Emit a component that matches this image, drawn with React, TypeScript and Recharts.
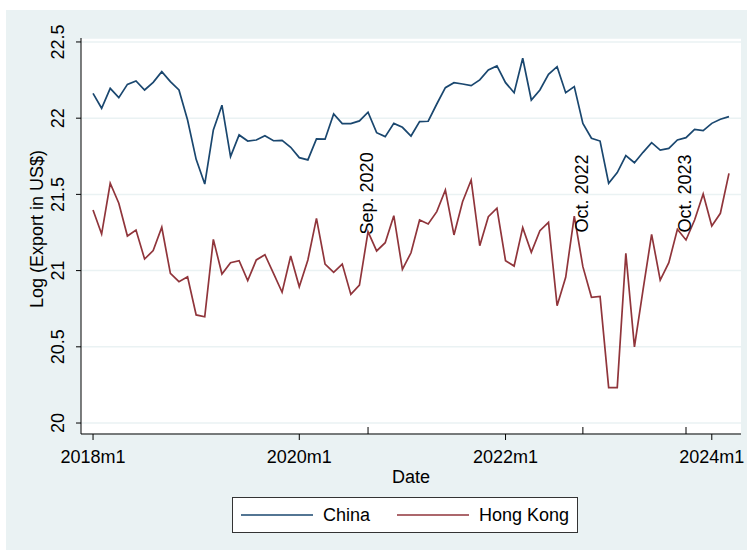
import React from "react";
import {
  LineChart,
  Line,
  XAxis,
  YAxis,
  CartesianGrid,
  ReferenceLine,
  ReferenceDot,
} from "recharts";

// Monthly log exports, 2018m1 .. 2024m3 (index 0 = 2018m1)
const china = [
  22.163, 22.065, 22.196, 22.135, 22.222, 22.244, 22.185, 22.235, 22.305, 22.24, 22.185, 21.988,
  21.73, 21.568, 21.923, 22.085, 21.748, 21.89, 21.85, 21.857, 21.885, 21.852, 21.855, 21.809,
  21.741, 21.726, 21.864, 21.862, 22.028, 21.964, 21.964, 21.982, 22.039, 21.905, 21.879, 21.966,
  21.94, 21.883, 21.977, 21.98, 22.093, 22.2, 22.233, 22.224, 22.213, 22.251, 22.316, 22.343,
  22.233, 22.167, 22.393, 22.119, 22.185, 22.288, 22.338, 22.167, 22.207, 21.966, 21.868, 21.85,
  21.573, 21.643, 21.754, 21.708, 21.776, 21.839, 21.791, 21.802, 21.857, 21.872, 21.927, 21.918,
  21.966, 21.993, 22.01,
];

const hongKong = [
  21.398, 21.24, 21.573, 21.442, 21.227, 21.266, 21.076, 21.131, 21.284, 20.982, 20.927, 20.96,
  20.709, 20.697, 21.205, 20.978, 21.052, 21.065, 20.934, 21.07, 21.104, 20.982, 20.858, 21.096,
  20.894, 21.07, 21.343, 21.043, 20.989, 21.043, 20.844, 20.905, 21.255, 21.129, 21.183, 21.36,
  21.008, 21.117, 21.332, 21.306, 21.387, 21.529, 21.234, 21.452, 21.594, 21.163, 21.354, 21.409,
  21.065, 21.03, 21.282, 21.12, 21.262, 21.317, 20.77, 20.956, 21.358, 21.026, 20.825, 20.83,
  20.232, 20.232, 21.113, 20.5, 20.873, 21.238, 20.938, 21.052, 21.271, 21.201, 21.332, 21.503,
  21.293, 21.376, 21.638,
];

const xTicks = [0, 24, 48, 72];
const xTickLabels = ["2018m1", "2020m1", "2022m1", "2024m1"];
const yTicks = [20, 20.5, 21, 21.5, 22, 22.5];

// event markers (month index) and their vertical notes
const eventMonths = [32, 57, 69];
const eventLabels = ["Sep. 2020", "Oct. 2022", "Oct. 2023"];
const eventTextY = 21.5;

const rows = china.map((v, i) => ({ t: i, china: v, hk: hongKong[i] }));

const FONT = "'Liberation Sans', Arial, sans-serif";
const FS = 18;
const NAVY = "#1A476F";
const MAROON = "#90353B";
const BG = "#EAF2F3";

function YTick({ x, y, payload }: any) {
  return (
    <text
      x={x}
      y={y}
      transform={`rotate(-90 ${x} ${y})`}
      textAnchor="middle"
      fontSize={FS}
      fontFamily={FONT}
      fill="#000"
    >
      {payload.value}
    </text>
  );
}

function YLabel({ viewBox }: any) {
  const x = viewBox.x + 37;
  const y = viewBox.y + viewBox.height / 2 - 7;
  return (
    <text
      x={x}
      y={y}
      transform={`rotate(-90 ${x} ${y})`}
      textAnchor="middle"
      fontSize={FS}
      fontFamily={FONT}
      fill="#000"
    >
      Log (Export in US$)
    </text>
  );
}

function EventTick(props: any) {
  const bottom = Math.max(props.y1, props.y2);
  return <line x1={props.x1} x2={props.x1} y1={bottom - 7} y2={bottom} stroke="#000" strokeWidth={1} />;
}

function eventText(label: string) {
  return ({ viewBox }: any) => {
    const x = viewBox.x + 6;
    const y = viewBox.y;
    return (
      <text
        x={x}
        y={y}
        transform={`rotate(-90 ${x} ${y})`}
        textAnchor="middle"
        fontSize={FS}
        fontFamily={FONT}
        fill="#000"
      >
        {label}
      </text>
    );
  };
}

export default function App() {
  return (
    <div
      style={{
        position: "absolute",
        left: 6,
        top: 10,
        width: 741,
        height: 540,
        background: BG,
        fontFamily: FONT,
      }}
    >
      <LineChart width={741} height={540} data={rows} margin={{ top: 28, right: 6, bottom: 0, left: 0 }}>
        <CartesianGrid vertical={false} fill="#fff" stroke={BG} strokeWidth={1.5} />
        <XAxis
          dataKey="t"
          type="number"
          domain={[-1.4, 75.4]}
          allowDataOverflow
          ticks={xTicks}
          interval={0}
          tickFormatter={(v: number) => xTickLabels[xTicks.indexOf(v)] ?? ""}
          tickSize={6}
          tickMargin={10}
          height={116}
          stroke="#000"
          tick={{ fill: "#000", fontSize: FS, fontFamily: FONT }}
          label={{ value: "Date", position: "insideTop", offset: 36, fill: "#000", fontSize: FS, fontFamily: FONT }}
        />
        <YAxis
          type="number"
          domain={[19.928, 22.526]}
          allowDataOverflow
          ticks={yTicks}
          interval={0}
          width={75}
          tickSize={5}
          tickMargin={12}
          stroke="#000"
          tick={<YTick />}
          label={<YLabel />}
        />
        {eventMonths.map((m) => (
          <ReferenceLine key={"l" + m} x={m} stroke="#000" shape={<EventTick />} />
        ))}
        {eventMonths.map((m, i) => (
          <ReferenceDot
            key={"d" + m}
            x={m}
            y={eventTextY}
            r={1}
            fill="none"
            stroke="none"
            label={eventText(eventLabels[i])}
          />
        ))}
        <Line
          type="linear"
          dataKey="china"
          stroke={NAVY}
          strokeWidth={1.7}
          dot={false}
          isAnimationActive={false}
        />
        <Line
          type="linear"
          dataKey="hk"
          stroke={MAROON}
          strokeWidth={1.7}
          dot={false}
          isAnimationActive={false}
        />
      </LineChart>
      <div
        style={{
          position: "absolute",
          left: 226,
          top: 487,
          width: 344,
          height: 34,
          border: "1px solid #333",
          background: "#fff",
          display: "flex",
          alignItems: "center",
          fontSize: FS,
          color: "#000",
        }}
      >
        <svg width={72} height={4} style={{ marginLeft: 8 }}>
          <line x1={0} x2={72} y1={2} y2={2} stroke={NAVY} strokeWidth={1.7} />
        </svg>
        <span style={{ marginLeft: 10 }}>China</span>
        <svg width={72} height={4} style={{ marginLeft: 27 }}>
          <line x1={0} x2={72} y1={2} y2={2} stroke={MAROON} strokeWidth={1.7} />
        </svg>
        <span style={{ marginLeft: 10 }}>Hong Kong</span>
      </div>
    </div>
  );
}
